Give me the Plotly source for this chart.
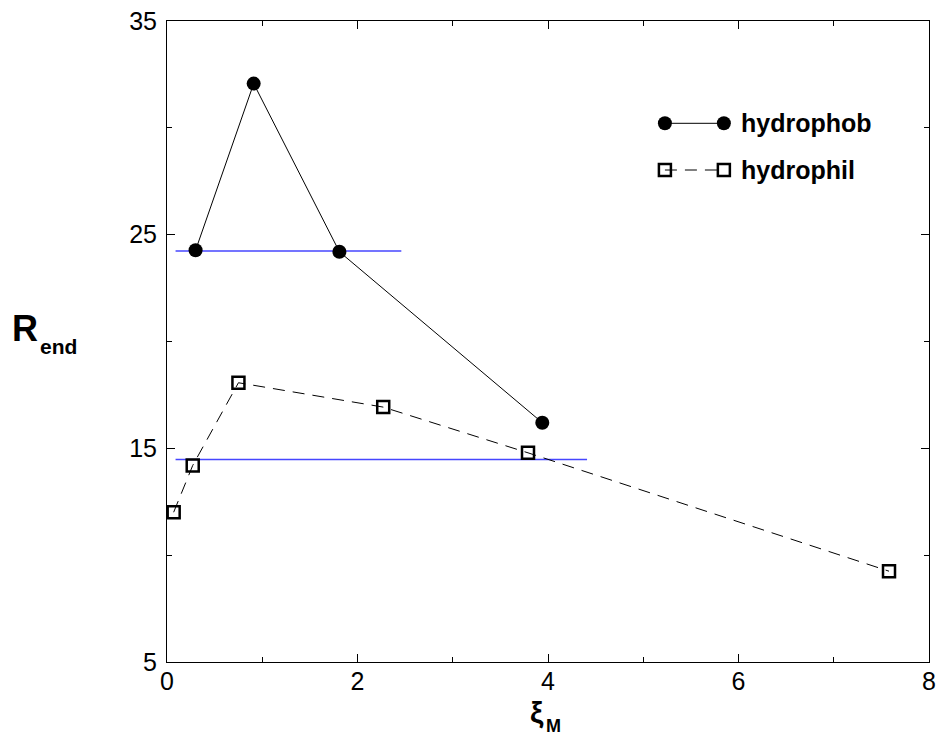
import plotly.graph_objects as go

# ---- data ----
phob_x = [0.30, 0.91, 1.81, 3.94]
phob_y = [24.27, 32.07, 24.20, 16.20]

phil_x = [0.07, 0.27, 0.75, 2.27, 3.79, 7.58]
phil_y = [12.01, 14.20, 18.07, 16.93, 14.79, 9.25]

# horizontal reference levels (level, x start, x end)
ref_levels = [24.23, 14.48]
ref_x_start = [0.09, 0.09]
ref_x_end = [2.46, 4.41]

x_ticks = [0, 2, 4, 6, 8]
y_ticks = [5, 15, 25, 35]

legend_names = ["hydrophob", "hydrophil"]

# ---- layout geometry (pixels) ----
W, H = 940, 741
L, R, T, B = 166.7, 929.3, 21.0, 662.0

def px2x(p):
    return (p - L) / (R - L)

def py2y(p):
    return (B - p) / (B - T)

FONT = "Liberation Sans, Arial, sans-serif"
BLUE = "#4646ff"

fig = go.Figure()

for lv, xs, xe in zip(ref_levels, ref_x_start, ref_x_end):
    fig.add_trace(go.Scatter(x=[xs, xe], y=[lv, lv], mode="lines",
                             line=dict(color=BLUE, width=1.5),
                             showlegend=False, hoverinfo="skip"))

fig.add_trace(go.Scatter(x=phob_x, y=phob_y, mode="lines+markers",
                         name=legend_names[0],
                         line=dict(color="black", width=1),
                         marker=dict(symbol="circle", size=14, color="black"),
                         showlegend=False))

fig.add_trace(go.Scatter(x=phil_x, y=phil_y, mode="lines+markers",
                         name=legend_names[1],
                         line=dict(color="black", width=1, dash="12px,8px"),
                         marker=dict(symbol="square-open", size=12,
                                     color="black", line=dict(width=2.5, color="black")),
                         showlegend=False))

# ---- custom legend on an overlay pixel axis ----
leg_rows_y = [123.3, 170.0]
leg_x0, leg_x1, leg_text_x = 665.0, 724.0, 739.0
fig.add_trace(go.Scatter(x=[leg_x0, leg_x1], y=[leg_rows_y[0]] * 2, mode="lines+markers",
                         xaxis="x2", yaxis="y2", showlegend=False, hoverinfo="skip",
                         line=dict(color="black", width=1),
                         marker=dict(symbol="circle", size=14, color="black")))
fig.add_trace(go.Scatter(x=[leg_x0, leg_x1], y=[leg_rows_y[1]] * 2, mode="lines+markers",
                         xaxis="x2", yaxis="y2", showlegend=False, hoverinfo="skip",
                         line=dict(color="black", width=1, dash="12px,8px"),
                         marker=dict(symbol="square-open", size=12, color="black",
                                     line=dict(width=2.5, color="black"))))

annotations = []
for name, yy in zip(legend_names, leg_rows_y):
    annotations.append(dict(x=px2x(leg_text_x), y=py2y(yy), xref="paper", yref="paper",
                            text="<b>%s</b>" % name, showarrow=False,
                            xanchor="left", yanchor="middle",
                            font=dict(family=FONT, size=25, color="black")))

# y-axis title R_end
annotations.append(dict(x=px2x(25), y=py2y(328), xref="paper", yref="paper",
                        text="<b>R</b>", showarrow=False, xanchor="center", yanchor="middle",
                        font=dict(family=FONT, size=36, color="black")))
annotations.append(dict(x=px2x(58), y=py2y(346), xref="paper", yref="paper",
                        text="<b>end</b>", showarrow=False, xanchor="center", yanchor="middle",
                        font=dict(family=FONT, size=21, color="black")))
# x-axis title xi_M
annotations.append(dict(x=px2x(537), y=py2y(712), xref="paper", yref="paper",
                        text="<b>ξ</b>", showarrow=False, xanchor="center", yanchor="middle",
                        font=dict(family=FONT, size=30, color="black")))
annotations.append(dict(x=px2x(554), y=py2y(726), xref="paper", yref="paper",
                        text="<b>M</b>", showarrow=False, xanchor="center", yanchor="middle",
                        font=dict(family=FONT, size=18, color="black")))

axis_common = dict(showline=True, linecolor="black", linewidth=1, mirror="ticks",
                   ticks="inside", ticklen=8, tickwidth=1, tickcolor="black",
                   showgrid=False, zeroline=False, automargin=False,
                   tickfont=dict(family=FONT, size=25, color="black"))

fig.update_layout(
    width=W, height=H, autosize=False,
    margin=dict(l=L, r=W - R, t=T, b=H - B, pad=0, autoexpand=False),
    paper_bgcolor="white", plot_bgcolor="white",
    showlegend=False,
    xaxis=dict(range=[0, 8], tickvals=x_ticks, ticklabelstandoff=-3,
               minor=dict(dtick=1, ticks="inside", ticklen=5, tickcolor="black", showgrid=False),
               **axis_common),
    yaxis=dict(range=[5, 35], tickvals=y_ticks, ticklabelstandoff=4,
               minor=dict(tick0=5, dtick=5, ticks="inside", ticklen=5, tickcolor="black", showgrid=False),
               **axis_common),
    xaxis2=dict(range=[L, R], overlaying="x", visible=False, fixedrange=True),
    yaxis2=dict(range=[B, T], overlaying="y", visible=False, fixedrange=True),
    annotations=annotations,
)

fig.write_html(
    "out.html",
    config={"displayModeBar": False, "responsive": False},
    post_script=(
        "document.documentElement.style.margin='0';"
        "document.documentElement.style.overflow='hidden';"
        "document.body.style.margin='0';document.body.style.padding='0';"
        "document.body.style.overflow='hidden';"
    ),
)
